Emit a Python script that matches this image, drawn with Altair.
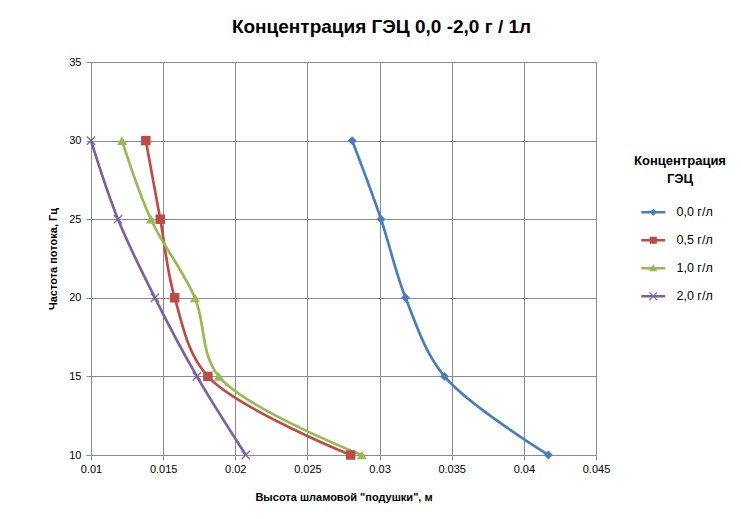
import altair as alt
import pandas as pd

# ---- data ----
series = ["0,0 г/л", "0,5 г/л", "1,0 г/л", "2,0 г/л"]
freq = [30, 25, 20, 15, 10]
h_00 = [0.0281, 0.0301, 0.0318, 0.0345, 0.0417]
h_05 = [0.0138, 0.0148, 0.0158, 0.0181, 0.0280]
h_10 = [0.01215, 0.01415, 0.0172, 0.01886, 0.02877]
h_20 = [0.0100, 0.01187, 0.01443, 0.01734, 0.02073]
x_ticks = [0.01, 0.015, 0.02, 0.025, 0.03, 0.035, 0.04, 0.045]
y_ticks = [10, 15, 20, 25, 30, 35]

colors = ["#4A7EBB", "#BE4B48", "#98B954", "#7D60A0"]

rows = []
for s, vals in zip(series, [h_00, h_05, h_10, h_20]):
    for f, h in zip(freq, vals):
        rows.append({"series": s, "freq": f, "h": h})
df = pd.DataFrame(rows)

FONT = "Liberation Sans"
GRID = "#8C8C8C"

color_scale = alt.Scale(domain=series, range=colors)
x_enc = alt.X("h:Q", scale=alt.Scale(domain=[0.01, 0.045], nice=False, zero=False),
              axis=alt.Axis(values=x_ticks, format="~g", title='Высота шламовой  "подушки", м',
                            titlePadding=17, labelFlush=False))
y_enc = alt.Y("freq:Q", scale=alt.Scale(domain=[10, 35], nice=False, zero=False),
              axis=alt.Axis(values=y_ticks, title="Частота  потока, Гц", titlePadding=10,
                            labelFlush=False))

base = alt.Chart(df)

# legend-only layer (invisible marks), symbol = line + marker
bar = "M-2.5,-0.28H2.5V0.28H-2.5Z "
legend_paths = [
    bar + "M0,-0.75L0.75,0L0,0.75L-0.75,0Z",
    bar + "M-0.75,-0.75H0.75V0.75H-0.75Z",
    bar + "M0,-0.85L0.85,0.6H-0.85Z",
    bar + "M-0.715,-0.885L0.885,0.715L0.715,0.885L-0.885,-0.715Z "
          "M0.885,-0.715L-0.715,0.885L-0.885,0.715L0.715,-0.885Z",
]
leg = alt.Legend(title=["Концентрация", "ГЭЦ"], orient="none", legendX=543, legendY=93,
                 symbolOpacity=1, titleLimit=300)
legend_layer = base.mark_point(filled=True, opacity=0).encode(
    x=x_enc, y=y_enc,
    color=alt.Color("series:N", scale=color_scale, legend=leg),
    shape=alt.Shape("series:N", scale=alt.Scale(domain=series, range=legend_paths), legend=leg),
)

lines = base.mark_line(interpolate="catmull-rom", strokeWidth=2.7).encode(
    x=x_enc, y=y_enc,
    color=alt.Color("series:N", scale=color_scale, legend=None),
    order=alt.Order("freq:Q"),
)

shapes_plot = ["diamond", "square", "triangle-up", "M-1,-1L1,1M-1,1L1,-1"]
sizes_plot = [80, 90, 100, 70]
markers = []
for s, c, shp, sz in zip(series, colors, shapes_plot, sizes_plot):
    filled = s != "2,0 г/л"
    m = base.transform_filter(alt.datum.series == s).mark_point(
        shape=shp, filled=filled, size=sz, color=c, opacity=1,
        strokeWidth=1.3 if not filled else 0.5,
    ).encode(x=x_enc, y=y_enc)
    markers.append(m)

chart = alt.layer(legend_layer, lines, *markers).properties(
    width=505, height=393,
    title=alt.TitleParams("Концентрация ГЭЦ 0,0 -2,0 г / 1л", fontSize=19, font=FONT,
                          fontWeight="bold", offset=19, anchor="middle", dx=38,
                          color="#000000"),
    autosize=alt.AutoSizeParams(type="none"),
    padding={"left": 83, "top": 54, "right": 134, "bottom": 50},
).configure_view(stroke=None).configure_axis(
    grid=True, gridColor=GRID, gridWidth=1, gridOpacity=1,
    domainColor=GRID, domainWidth=1, tickColor=GRID, tickSize=5, tickWidth=1,
    labelFont=FONT, labelFontSize=11, labelColor="#000000", labelPadding=3,
    titleFont=FONT, titleFontSize=11, titleFontWeight="bold", titleColor="#000000",
).configure_axisY(labelPadding=5).configure_legend(
    titleFont=FONT, titleFontSize=13, titleFontWeight="bold", titleColor="#000000",
    titleAlign="center", titleAnchor="middle", titlePadding=20, titleLineHeight=18,
    titleLimit=300,
    labelFont=FONT, labelFontSize=12.5, labelColor="#000000", labelOffset=17,
    symbolSize=92, symbolStrokeWidth=0, rowPadding=15, padding=0,
)

chart.save("out.html", embed_options={"renderer": "svg", "actions": False})
